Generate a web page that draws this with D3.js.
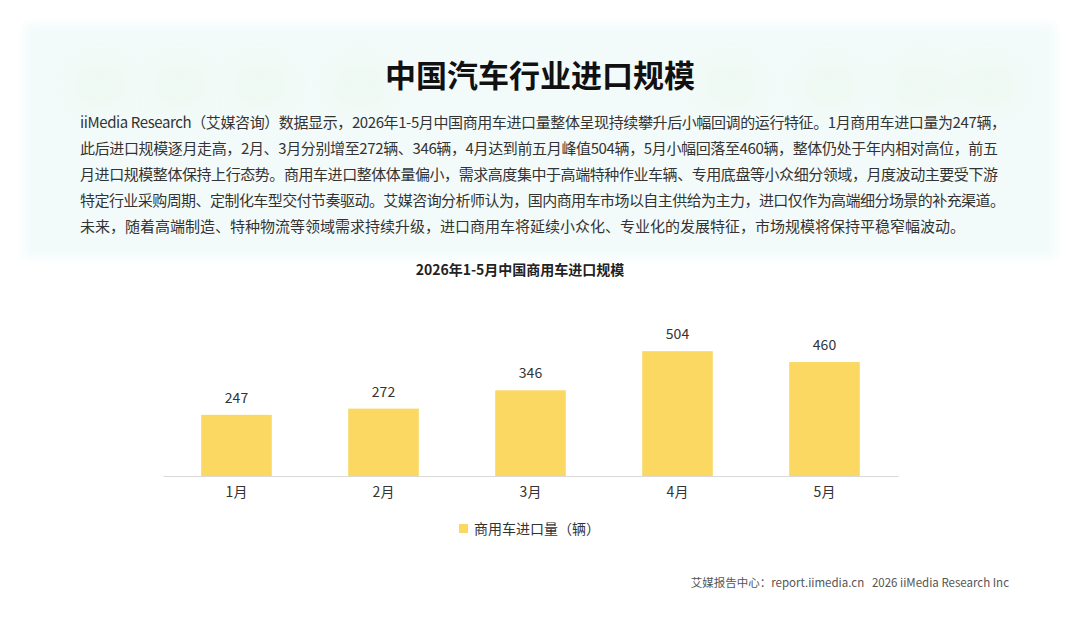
<!DOCTYPE html>
<html>
<head>
<meta charset="utf-8">
<script src="https://cdn.jsdelivr.net/npm/d3@7"></script>
<style>
  body { margin: 0; background: #fff; }
  svg { display: block; font-family: "Noto Sans CJK SC", "Noto Sans", sans-serif; }
</style>
</head>
<body>
<div id="vis"></div>
<script>
// data
const months = ["1月", "2月", "3月", "4月", "5月"];
const imports = [247, 272, 346, 504, 460];
const seriesName = "商用车进口量（辆）";

const pageTitle = "中国汽车行业进口规模";
const chartTitle = "2026年1-5月中国商用车进口规模";
const introLines = [
    "iiMedia Research（艾媒咨询）数据显示，2026年1-5月中国商用车进口量整体呈现持续攀升后小幅回调的运行特征。1月商用车进口量为247辆，",
    "此后进口规模逐月走高，2月、3月分别增至272辆、346辆，4月达到前五月峰值504辆，5月小幅回落至460辆，整体仍处于年内相对高位，前五",
    "月进口规模整体保持上行态势。商用车进口整体体量偏小，需求高度集中于高端特种作业车辆、专用底盘等小众细分领域，月度波动主要受下游",
    "特定行业采购周期、定制化车型交付节奏驱动。艾媒咨询分析师认为，国内商用车市场以自主供给为主力，进口仅作为高端细分场景的补充渠道。",
    "未来，随着高端制造、特种物流等领域需求持续升级，进口商用车将延续小众化、专业化的发展特征，市场规模将保持平稳窄幅波动。"
];
// justified widths of the first four lines (last line is left ragged)
const introWidths = [926, 918, 918, 925, null];
const footer = "艾媒报告中心：report.iimedia.cn   2026 iiMedia Research Inc";

const WIDTH = 1080;
const HEIGHT = 623;
const BAR_COLOR = "#fad861";

const svg = d3.select("#vis")
    .append("svg")
    .attr("width", WIDTH)
    .attr("height", HEIGHT);

const defs = svg.append("defs");
defs.append("filter")
    .attr("id", "soft")
    .attr("x", "-10%").attr("y", "-10%")
    .attr("width", "120%").attr("height", "120%")
    .append("feGaussianBlur")
    .attr("stdDeviation", 5);
defs.append("filter")
    .attr("id", "blob")
    .attr("x", "-50%").attr("y", "-50%")
    .attr("width", "200%").attr("height", "200%")
    .append("feGaussianBlur")
    .attr("stdDeviation", 14);

// light header panel
svg.append("rect")
    .attr("x", 24)
    .attr("y", 24)
    .attr("width", 1032)
    .attr("height", 234)
    .attr("fill", "#f3fbfa")
    .attr("filter", "url(#soft)");

// faint blurred shapes behind the header
const blobs = svg.append("g").attr("opacity", 0.3).attr("filter", "url(#blob)");
[70, 150, 230, 330, 700, 800, 890, 960].forEach(x => {
    blobs.append("rect")
        .attr("x", x)
        .attr("y", 62)
        .attr("width", 60)
        .attr("height", 48)
        .attr("rx", 14)
        .attr("fill", "#e3f4df");
});

// title
svg.append("text")
    .attr("x", WIDTH / 2)
    .attr("y", 87)
    .attr("text-anchor", "middle")
    .attr("font-size", 31)
    .attr("font-weight", "bold")
    .attr("fill", "#111")
    .text(pageTitle);

// intro paragraph
svg.append("g")
    .selectAll("text")
    .data(introLines)
    .enter()
    .append("text")
    .attr("x", 80)
    .attr("y", (d, i) => 128 + i * 26)
    .attr("font-size", 15)
    .attr("fill", "#333")
    .attr("textLength", (d, i) => introWidths[i])
    .attr("lengthAdjust", "spacing")
    .text(d => d);

// chart title
svg.append("text")
    .attr("x", 520)
    .attr("y", 275)
    .attr("text-anchor", "middle")
    .attr("font-size", 14)
    .attr("font-weight", "bold")
    .attr("fill", "#222")
    .text(chartTitle);

// scales
const X_SCALE = d3.scaleBand()
    .domain(months)
    .range([163, 898])
    .paddingInner(0.52)
    .paddingOuter(0.26);

const Y_SCALE = d3.scaleLinear()
    .domain([0, 600])
    .range([476, 327.4]);

// bars
svg.append("g")
    .selectAll("rect")
    .data(imports)
    .enter()
    .append("rect")
    .attr("x", (d, i) => X_SCALE(months[i]))
    .attr("y", d => Y_SCALE(d))
    .attr("width", X_SCALE.bandwidth())
    .attr("height", d => Y_SCALE(0) - Y_SCALE(d))
    .attr("fill", BAR_COLOR);

// value labels
svg.append("g")
    .selectAll("text")
    .data(imports)
    .enter()
    .append("text")
    .attr("x", (d, i) => X_SCALE(months[i]) + X_SCALE.bandwidth() / 2)
    .attr("y", d => Y_SCALE(d) - 12)
    .attr("text-anchor", "middle")
    .attr("font-size", 14)
    .attr("fill", "#333")
    .text(d => d);

// x axis
const xAxis = svg.append("g")
    .attr("transform", "translate(0," + Y_SCALE(0) + ")")
    .call(d3.axisBottom(X_SCALE).tickSize(0).tickPadding(11));
xAxis.select(".domain").attr("stroke", "#d9d9d9").attr("stroke-width", 1.2);
xAxis.selectAll("text")
    .attr("font-size", 14)
    .attr("font-family", "\"Noto Sans CJK SC\", sans-serif")
    .attr("fill", "#333");

// legend
const legend = svg.append("g").attr("transform", "translate(459,524)");
legend.append("rect")
    .attr("width", 9)
    .attr("height", 9)
    .attr("fill", BAR_COLOR);
legend.append("text")
    .attr("x", 15)
    .attr("y", 10)
    .attr("font-size", 14)
    .attr("fill", "#333")
    .text(seriesName);

// footer
svg.append("text")
    .attr("x", 1009)
    .attr("y", 587)
    .attr("text-anchor", "end")
    .attr("font-size", 11.5)
    .attr("fill", "#555")
    .attr("xml:space", "preserve")
    .style("white-space", "pre")
    .text(footer);
</script>
</body>
</html>
